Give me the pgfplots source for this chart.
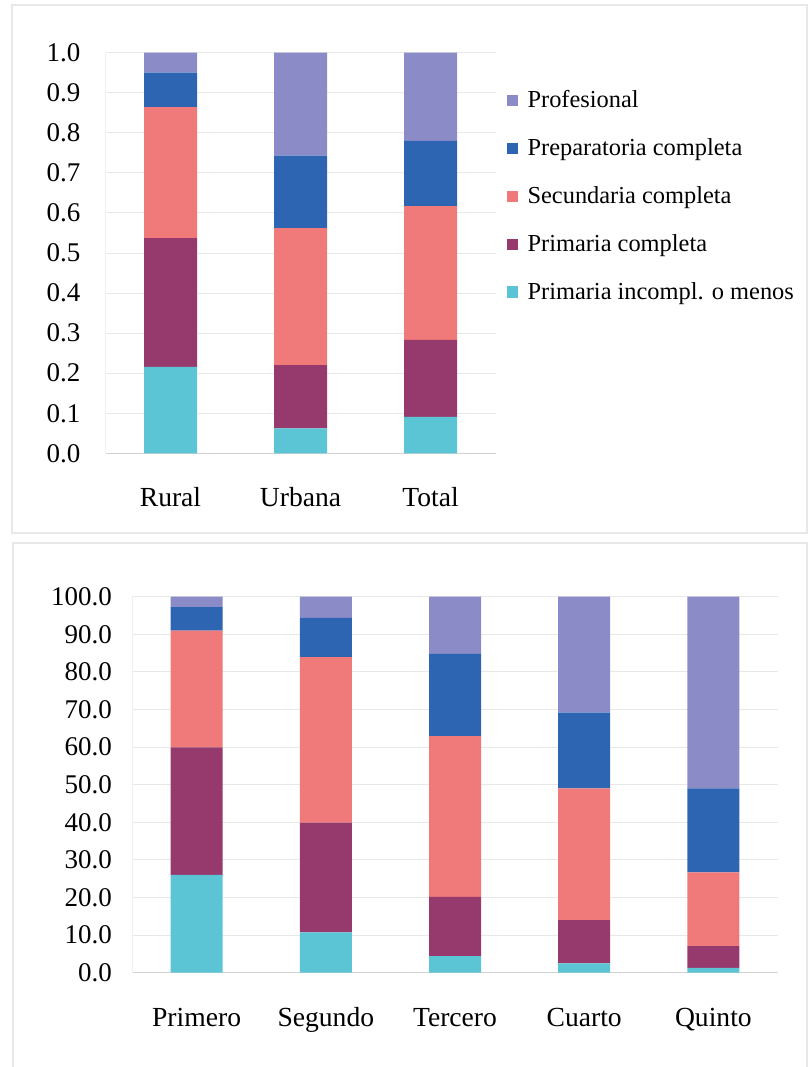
\documentclass[border=0pt]{standalone}
\usepackage{pgfplots}
\pgfplotsset{compat=1.18}
\usepackage{fontspec}
\setmainfont{Liberation Serif}

\definecolor{cProf}{RGB}{139,139,200}
\definecolor{cPrep}{RGB}{45,101,178}
\definecolor{cSec}{RGB}{240,122,122}
\definecolor{cPC}{RGB}{150,58,110}
\definecolor{cPI}{RGB}{91,197,214}

\pgfplotsset{
  panel/.style={
    ybar stacked,
    scale only axis,
    axis x line*=bottom,
    axis y line*=left,
    x axis line style={gray!35},
    y axis line style={gray!12},
    ymajorgrids,
    grid style={gray!18, line width=0.5pt},
    major tick length=0pt,
    xtick=data,
    ymin=0,
    /pgf/number format/assume math mode=true,
    yticklabel style={font=\fontsize{13.5}{15}\selectfont,
      /pgf/number format/fixed, /pgf/number format/fixed zerofill,
      /pgf/number format/precision=1},
    xticklabel style={font=\fontsize{13.8}{15}\selectfont, yshift=-16pt,
      text height=0.72em, text depth=0.22em},
    every axis plot/.append style={draw=none},
  },
}

\begin{document}
\begin{tikzpicture}
\path[use as bounding box] (0pt,0pt) rectangle (404pt,-533.5pt);
% panel frames
\draw[gray!18, line width=0.6pt] (6pt,-2.5pt) rectangle (403.5pt,-266.5pt);
\draw[gray!18, line width=0.6pt] (6.5pt,-271.5pt) rectangle (403.5pt,-540pt);

% top panel
\begin{axis}[
  panel,
  at={(52.75pt,-226.65pt)}, anchor=south west,
  width=195pt, height=200.3pt,
  bar width=26.5pt,
  xmin=-0.5, xmax=2.5,
  ymax=1,
  ytick={0,0.1,...,1.0},
  yticklabel style={xshift=-9pt},
  xticklabels={Rural, Urbana, Total},
  reverse legend,
  legend cell align=left,
  legend style={at={(1.013,0.925)}, anchor=north west, draw=none, fill=none,
    font=\fontsize{12.2}{13}\selectfont, row sep=11pt,
    nodes={inner sep=1.5pt}},
  legend image code/.code={\fill[#1] (0pt,-2.8pt) rectangle (5.6pt,2.8pt); \path (8.8pt,0pt);},
]
\addplot[fill=cPI] coordinates {(0,0.216) (1,0.062) (2,0.091)};
\addplot[fill=cPC] coordinates {(0,0.321) (1,0.158) (2,0.192)};
\addplot[fill=cSec] coordinates {(0,0.327) (1,0.342) (2,0.334)};
\addplot[fill=cPrep] coordinates {(0,0.086) (1,0.181) (2,0.163)};
\addplot[fill=cProf] coordinates {(0,0.050) (1,0.257) (2,0.220)};
\legend{Primaria incompl. o menos, Primaria completa, Secundaria completa, Preparatoria completa, Profesional}
\end{axis}

% bottom panel
\begin{axis}[
  panel,
  at={(66pt,-486.35pt)}, anchor=south west,
  width=323pt, height=188pt,
  bar width=26pt,
  xmin=-0.5, xmax=4.5,
  ymax=100,
  ytick={0,10,...,100},
  yticklabel style={xshift=-6.5pt},
  xticklabels={Primero, Segundo, Tercero, Cuarto, Quinto},
]
\addplot[fill=cPI] coordinates {(0,26.0) (1,10.7) (2,4.4) (3,2.5) (4,1.3)};
\addplot[fill=cPC] coordinates {(0,33.9) (1,29.2) (2,15.8) (3,11.5) (4,5.8)};
\addplot[fill=cSec] coordinates {(0,31.1) (1,44.0) (2,42.7) (3,35.0) (4,19.6)};
\addplot[fill=cPrep] coordinates {(0,6.2) (1,10.5) (2,21.9) (3,20.2) (4,22.3)};
\addplot[fill=cProf] coordinates {(0,2.8) (1,5.6) (2,15.2) (3,30.8) (4,51.0)};
\end{axis}
\end{tikzpicture}
\end{document}
